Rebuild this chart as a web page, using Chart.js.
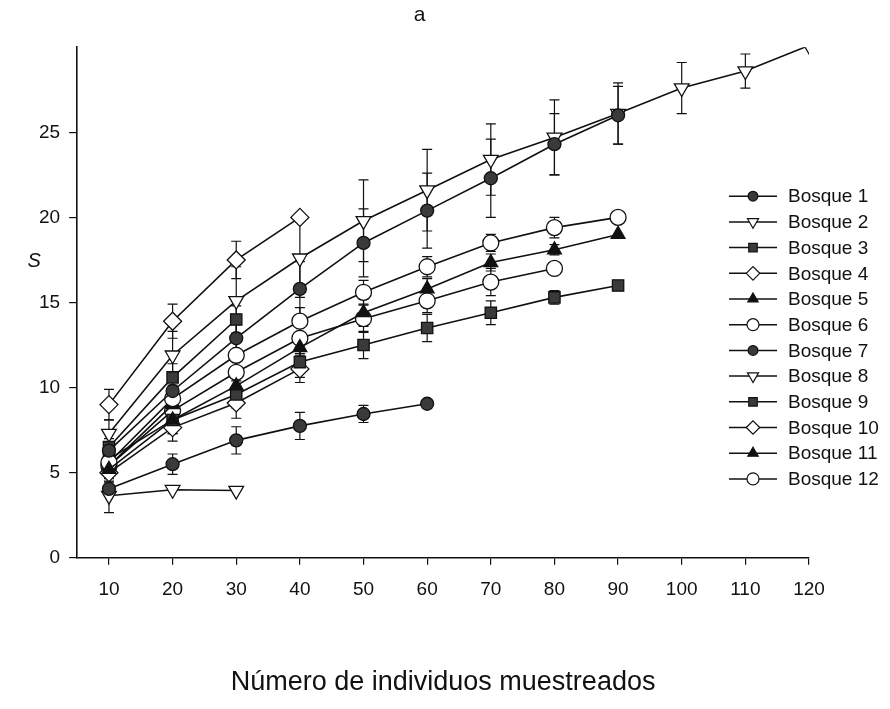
<!DOCTYPE html>
<html>
<head>
<meta charset="utf-8">
<script src="https://cdn.jsdelivr.net/npm/chart.js@4/dist/chart.umd.min.js"></script>
<style>
body{margin:0;background:#fff}
#caja{width:890px;height:709px}
</style>
</head>
<body>
<div id="caja"><canvas id="grafico" width="890" height="709"></canvas></div>
<script>
// individuos muestreados (eje x)
xs=[10,20,30,40,50,60,70,80,90,100,110,120]
xTicks=[10,20,30,40,50,60,70,80,90,100,110,120]
yTicks=[0,5,10,15,20,25]
nombres=['Bosque 1','Bosque 2','Bosque 3','Bosque 4','Bosque 5','Bosque 6','Bosque 7','Bosque 8','Bosque 9','Bosque 10','Bosque 11','Bosque 12']

// riqueza S por bosque
bosque1=[6.3, 9.8, 12.9, 15.8, 18.5, 20.4, 22.3, 24.3, 26.0]
bosque2=[7.3, 11.9, 15.1, 17.6, 19.8, 21.6, 23.4, 24.7, 26.1, 27.6, 28.6, 30.1]
bosque3=[6.5, 10.6, 14.0]
bosque4=[9.0, 13.9, 17.5, 20.0]
bosque5=[5.2, 8.1, 10.1, 12.35, 14.4, 15.8, 17.35, 18.1, 19.0]
bosque6=[5.6, 9.35, 11.9, 13.9, 15.6, 17.1, 18.5, 19.4, 20.0]
bosque7=[4.05, 5.5, 6.9, 7.75, 8.45, 9.05]
bosque8=[3.65, 4.0, 3.95]
bosque9=[5.8, 8.1, 9.6, 11.5, 12.5, 13.5, 14.4, 15.3, 16.0]
bosque10=[5.0, 7.65, 9.1, 11.1]
bosque11=[5.4, 9.0]
bosque12=[5.4, 8.65, 10.9, 12.9, 14.05, 15.1, 16.2, 17.0]

// desviaciones (barras de error)
de1=[0.5, 0.9, 1.2, 1.6, 2.0, 2.2, 2.3, 1.8, 1.7]
de2=[0.8, 1.4, 2.0, 2.3, 2.4, 2.4, 2.1, 2.2, 1.8, 1.5, 1.0, 0]
de3=[0.5, 0.8, 0.8]
de4=[0.9, 1.0, 1.1, 0]
de5=[0.5, 0.8, 0.9, 0.9, 0.8, 0.6, 0.5, 0.3, 0]
de6=[0.5, 0.8, 0.8, 0.8, 0.7, 0.6, 0.5, 0.6, 0]
de7=[0.4, 0.6, 0.8, 0.8, 0.5, 0]
de8=[1.0, 0, 0]
de9=[0.5, 0.8, 0.8, 0.9, 0.8, 0.8, 0.7, 0.4, 0]
de10=[0.5, 0.8, 0.9, 0.8]
de11=[0.5, 0.8]
de12=[0.5, 0.8, 0.8, 0.9, 0.8, 0.7, 0.8, 0]

valores=[bosque1,bosque2,bosque3,bosque4,bosque5,bosque6,bosque7,bosque8,bosque9,bosque10,bosque11,bosque12]
errores=[de1,de2,de3,de4,de5,de6,de7,de8,de9,de10,de11,de12]

fuente='"Liberation Sans", Arial, sans-serif'

// marcadores: circulo lleno, triangulo invertido, cuadrado lleno, rombo, triangulo lleno, circulo vacio
estilos=[
    {pointStyle:'circle', radius:6.5, rotation:0, bg:'#3a3a3a'},
    {pointStyle:'triangle', radius:8.5, rotation:180, bg:'#ffffff'},
    {pointStyle:'rect', radius:8, rotation:0, bg:'#3a3a3a'},
    {pointStyle:'rectRot', radius:9, rotation:0, bg:'#ffffff'},
    {pointStyle:'triangle', radius:8, rotation:0, bg:'#111111'},
    {pointStyle:'circle', radius:8, rotation:0, bg:'#ffffff'}
]

datasets=[]
for(i=0;i<12;i++){
    est=estilos[i%6]
    datasets.push({
        label:nombres[i],
        data:valores[i].map((v,j)=>({x:xs[j], y:v})),
        errores:errores[i],
        borderColor:'#111',
        borderWidth:1.6,
        backgroundColor:est.bg,
        pointStyle:est.pointStyle,
        pointRadius:est.radius,
        pointRotation:est.rotation,
        pointBorderColor:'#111',
        pointBackgroundColor:est.bg,
        pointBorderWidth:1.3,
        tension:0,
        fill:false
    })
}

// barras de error detras de los puntos
barrasError={
    id:'barrasError',
    beforeDatasetsDraw(chart){
        ctx=chart.ctx
        a=chart.chartArea
        xS=chart.scales.x
        yS=chart.scales.y
        ctx.save()
        ctx.beginPath()
        ctx.rect(a.left, a.top-2, a.right-a.left, a.bottom-a.top+2)
        ctx.clip()
        ctx.strokeStyle='#111'
        ctx.lineWidth=1.2
        chart.data.datasets.forEach(ds=>{
            ds.data.forEach((p,j)=>{
                e=ds.errores[j]
                if(!e) return
                px=xS.getPixelForValue(p.x)
                y1=yS.getPixelForValue(p.y+e)
                y2=yS.getPixelForValue(p.y-e)
                ctx.beginPath()
                ctx.moveTo(px,y1); ctx.lineTo(px,y2)
                ctx.moveTo(px-5,y1); ctx.lineTo(px+5,y1)
                ctx.moveTo(px-5,y2); ctx.lineTo(px+5,y2)
                ctx.stroke()
            })
        })
        ctx.restore()
    }
}

// leyenda con linea + marcador, y la etiqueta S
leyenda={
    id:'leyenda',
    afterDraw(chart){
        ctx=chart.ctx
        a=chart.chartArea
        ctx.save()
        x0=a.right-80
        for(i=0;i<chart.data.datasets.length;i++){
            ds=chart.data.datasets[i]
            yy=a.top+149+i*25.7
            ctx.strokeStyle='#111'
            ctx.lineWidth=1.5
            ctx.beginPath()
            ctx.moveTo(x0,yy); ctx.lineTo(x0+48,yy)
            ctx.stroke()
            ctx.fillStyle=ds.pointBackgroundColor
            ctx.lineWidth=1.2
            Chart.helpers.drawPoint(ctx,{pointStyle:ds.pointStyle, radius:ds.pointRadius*0.75, rotation:ds.pointRotation, borderWidth:1.2}, x0+24, yy)
            ctx.fillStyle='#111'
            ctx.font='19px '+fuente
            ctx.textBaseline='middle'
            ctx.textAlign='left'
            ctx.fillText(ds.label, x0+59, yy+1)
        }
        ctx.font='italic 20px '+fuente
        ctx.textAlign='center'
        ctx.fillText('S', a.left-43, chart.scales.y.getPixelForValue(17.4))
        ctx.restore()
    }
}

const ctx0=document.getElementById('grafico').getContext('2d')
const miGrafico=new Chart(ctx0,{
    type:'line',
    data:{datasets:datasets},
    options:{
        responsive:false,
        animation:false,
        layout:{padding:{left:30, right:81, top:0, bottom:6}},
        plugins:{
            legend:{display:false},
            tooltip:{enabled:false},
            title:{
                display:true,
                text:'a',
                color:'#111',
                font:{family:fuente, size:21, weight:'normal'},
                padding:{top:3, bottom:19}
            }
        },
        scales:{
            x:{
                type:'linear',
                min:5,
                max:120,
                afterBuildTicks:s=>{s.ticks=xTicks.map(v=>({value:v}))},
                grid:{display:true, drawOnChartArea:false, drawTicks:true, tickLength:7, color:'#111', lineWidth:1.2},
                border:{display:true, color:'#111', width:1.6},
                ticks:{color:'#111', padding:14, maxRotation:0, font:{family:fuente, size:19}},
                title:{display:true, text:'Número de individuos muestreados', color:'#111', padding:{top:51, bottom:4},
                    font:{family:fuente, size:27}}
            },
            y:{
                min:0,
                max:30,
                afterBuildTicks:s=>{s.ticks=yTicks.map(v=>({value:v}))},
                grid:{display:true, drawOnChartArea:false, drawTicks:true, tickLength:8, color:'#111', lineWidth:1.2},
                border:{display:true, color:'#111', width:1.6},
                ticks:{color:'#111', padding:9, font:{family:fuente, size:19}}
            }
        }
    },
    plugins:[barrasError, leyenda]
})
</script>
</body>
</html>
